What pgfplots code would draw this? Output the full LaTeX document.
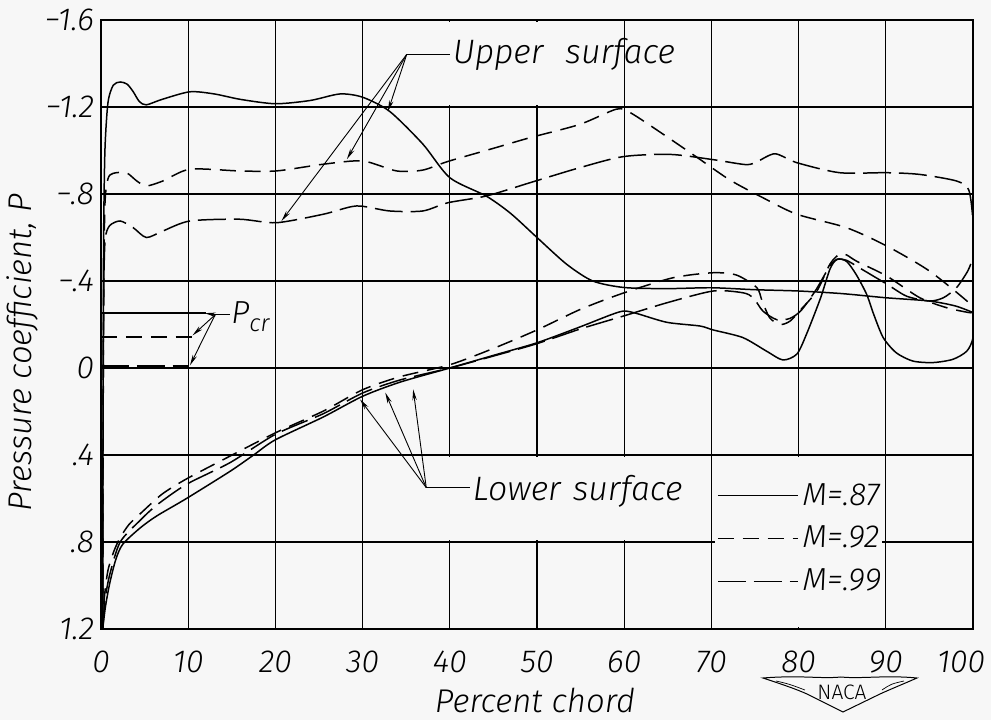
\documentclass[border=0pt]{standalone}
\usepackage{pgfplots}
\pgfplotsset{compat=1.18}
\usepackage{fontspec}
\setmainfont{Fira Sans Light}[ItalicFont={Fira Sans Light Italic}]
\usetikzlibrary{arrows.meta,calc,backgrounds}
\definecolor{bg}{RGB}{247,247,247}
\tikzset{
  s87/.style={black, line width=0.75pt, solid},
  s92/.style={black, line width=0.75pt, dash pattern=on 8pt off 4.5pt},
  s99/.style={black, line width=0.75pt, dash pattern=on 14pt off 4pt},
  ann/.style={black, line width=0.45pt},
  arr/.style={black, line width=0.45pt, -{Stealth[length=5.5bp,width=2.2bp]}},
}
\begin{document}
\begin{tikzpicture}
\begin{axis}[
  name=ax,
  scale only axis,
  width=436bp, height=304.5bp,
  xmin=0, xmax=100, ymin=-1.6, ymax=1.2,
  y dir=reverse,
  xtick={0,10,...,100},
  ytick={-1.6,-1.2,-0.8,-0.4,0,0.4,0.8,1.2},
  xticklabels={0,10,20,30,40,50,60,70,80,90,\hspace*{-12bp}100},
  yticklabels={−1.6,−1.2,−.8,−.4,0,.4,.8,1.2},
  major tick length=0pt,
  grid=major,
  major grid style={black, line width=0.65pt},
  axis line style={black, line width=0.75pt},
  tick label style={font=\fontsize{16}{18}\selectfont\itshape},
  xticklabel style={anchor=base, yshift=-21.5bp},
  xlabel={Percent chord},
  xlabel style={at={(axis description cs:0.4977,-0.1166)}, anchor=center,
    font=\fontsize{16.5}{18}\selectfont\itshape},
  legend style={at={(axis cs:70.6,0.51)}, anchor=north west, draw=none, fill=none,
    font=\fontsize{16}{18}\selectfont\itshape, row sep=5bp, inner sep=0pt,
    cells={anchor=west}},
  legend image code/.code={\draw[#1] (0bp,0bp) -- (40bp,0bp);},
]
% blank areas of the grid behind the labels and the key
\fill[bg] (axis cs:30.4,-1.59) rectangle (axis cs:59.6,-1.21);
\fill[bg] (axis cs:30.4,0.41) rectangle (axis cs:69.6,0.79);
\fill[bg] (axis cs:70.4,0.41) rectangle (axis cs:89.6,1.19);

\addlegendimage{s87}\addlegendentry{M=.87}
\addlegendimage{s92}\addlegendentry{M=.92}
\addlegendimage{s99}\addlegendentry{M=.99}

% ---------- upper surface ----------
\addplot[s87, smooth, tension=0.45, forget plot] coordinates {
(0.2,1.2)(0.22,0.6)(0.25,0)(0.3,-0.6)(0.45,-1.0)(0.8,-1.22)(1.4,-1.3)(2.2,-1.315)
(3,-1.305)(3.7,-1.27)(4.4,-1.225)(5.2,-1.21)(7,-1.235)(10.2,-1.27)(13,-1.26)
(16,-1.235)(20,-1.215)(24,-1.23)(27.4,-1.26)(30,-1.245)(33.1,-1.18)(36.9,-1.03)
(40,-0.875)(44.2,-0.79)(47,-0.71)(50,-0.6)(53.4,-0.477)(56.4,-0.40)(60,-0.37)
(65,-0.365)(70,-0.369)(75,-0.36)(80,-0.354)(85,-0.342)(90,-0.323)(95,-0.308)
(98,-0.285)(100,-0.255)};
\addplot[s92, smooth, tension=0.45, forget plot] coordinates {
(0.2,1.2)(0.22,0.5)(0.3,-0.3)(0.45,-0.75)(0.8,-0.87)(1.4,-0.895)(2.9,-0.898)
(4.1,-0.86)(5.2,-0.837)(7.1,-0.86)(10.2,-0.914)(15.9,-0.906)(20.1,-0.906)
(25.5,-0.937)(30,-0.952)(33.9,-0.906)(36.9,-0.91)(39.8,-0.95)(45,-1.01)
(49.2,-1.059)(54.9,-1.12)(59.1,-1.19)(60.7,-1.174)(64.5,-1.074)(68.3,-0.97)
(72.1,-0.865)(75.9,-0.783)(79.8,-0.707)(85.5,-0.645)(90.1,-0.561)(95,-0.446)
(99.7,-0.294)(100,-0.262)};
\addplot[s99, smooth, tension=0.45, forget plot] coordinates {
(0.2,1.2)(0.22,0.6)(0.28,-0.1)(0.35,-0.45)(0.5,-0.6)(1,-0.655)(2.2,-0.676)
(3.7,-0.645)(5.2,-0.6)(7.1,-0.63)(10.2,-0.676)(15.9,-0.684)(20.1,-0.668)
(25.5,-0.707)(29.3,-0.745)(33.1,-0.722)(36.9,-0.722)(39.8,-0.76)(44.2,-0.791)
(49.2,-0.852)(54.9,-0.921)(59.9,-0.972)(65.3,-0.982)(70.2,-0.958)(74,-0.935)
(75.3,-0.95)(77.3,-0.985)(79.8,-0.944)(84.7,-0.898)(90.1,-0.898)(93.9,-0.89)
(98.1,-0.86)(99.5,-0.82)(99.95,-0.7)(100,-0.6)(100,-0.507)};

% ---------- lower surface ----------
\addplot[s87, smooth, tension=0.45, forget plot] coordinates {
(0.2,1.2)(0.5,1.1)(1,0.99)(1.7,0.88)(2.5,0.81)(4.5,0.735)(6.4,0.68)(9.8,0.60)
(14.8,0.475)(17.5,0.40)(20,0.33)(25.5,0.225)(30,0.13)(34.3,0.065)(40,0.0)(45,-0.058)
(50,-0.116)(55,-0.19)(58.5,-0.245)(60,-0.262)(61.5,-0.25)(64.9,-0.21)
(68.7,-0.193)(70.2,-0.175)(73.6,-0.14)(76.3,-0.078)(78.2,-0.037)(79.8,-0.064)
(80.9,-0.155)(82.5,-0.32)(83.6,-0.455)(84.4,-0.50)(85.5,-0.49)(86.6,-0.43)
(87.8,-0.339)(88.6,-0.248)(89.7,-0.14)(91.2,-0.07)(93.1,-0.032)(95.4,-0.025)
(97.7,-0.04)(99.3,-0.078)(100,-0.14)(100,-0.255)};
\addplot[s92, smooth, tension=0.45, forget plot] coordinates {
(0.2,1.2)(0.4,1.05)(0.8,0.93)(1.5,0.84)(2.2,0.78)(3.2,0.72)(4.5,0.67)(7,0.58)
(9.8,0.51)(14.8,0.405)(20,0.298)(25.5,0.198)(30,0.10)(34.3,0.04)(40,-0.015)
(45,-0.09)(50,-0.175)(55,-0.27)(60,-0.346)(65.6,-0.415)(70.2,-0.438)
(72.9,-0.427)(75.2,-0.37)(75.8,-0.31)(76.7,-0.23)(77.9,-0.20)(79,-0.215)
(80.1,-0.262)(82.1,-0.354)(83.6,-0.478)(84.7,-0.524)(85.5,-0.52)(86.7,-0.49)
(90.1,-0.423)(93.9,-0.323)(97,-0.277)(99.7,-0.254)(100,-0.262)};
\addplot[s99, smooth, tension=0.45, forget plot] coordinates {
(0.2,1.2)(0.45,1.07)(1,0.95)(2.2,0.80)(4.5,0.70)(6.4,0.63)(9.8,0.535)
(14.8,0.435)(20,0.305)(25.5,0.21)(30,0.115)(34.3,0.055)(40,0.0)(45,-0.055)
(50,-0.112)(55,-0.18)(60,-0.24)(64.9,-0.30)(70.2,-0.354)(73.6,-0.346)
(74.8,-0.323)(75.9,-0.262)(77.5,-0.222)(79,-0.228)(80.3,-0.265)(82,-0.36)
(83.6,-0.47)(84.5,-0.50)(85.5,-0.495)(87,-0.46)(90.1,-0.386)(92.4,-0.33)
(95,-0.308)(96.6,-0.323)(98.1,-0.369)(99.4,-0.446)(100,-0.507)};

% ---------- critical pressure coefficients ----------
\addplot[s87, forget plot] coordinates {(0,-0.252)(12,-0.252)};
\addplot[s92, forget plot] coordinates {(0,-0.143)(10.4,-0.143)};
\addplot[s99, line width=1.4pt, forget plot] coordinates {(0,-0.006)(10,-0.006)};

% ---------- annotations ----------
\draw[ann] (axis cs:13.1,-0.245) -- (axis cs:14.8,-0.245);
\draw[arr] (axis cs:13.1,-0.245) -- (axis cs:11.9,-0.252);
\draw[arr] (axis cs:13.1,-0.245) -- (axis cs:10.5,-0.15);
\draw[arr] (axis cs:13.1,-0.245) -- (axis cs:10.2,-0.012);
\node[anchor=west, inner sep=0pt, font=\fontsize{16}{18}\selectfont\itshape]
  at (axis cs:14.9,-0.235) {P\raisebox{-0.5ex}{\fontsize{12}{13}\selectfont\itshape cr}};

\draw[ann] (axis cs:35.06,-1.442) -- (axis cs:40.0,-1.442);
\draw[arr] (axis cs:35.06,-1.442) -- (axis cs:32.9,-1.18);
\draw[arr] (axis cs:35.06,-1.442) -- (axis cs:28.2,-0.96);
\draw[arr] (axis cs:35.06,-1.442) -- (axis cs:20.7,-0.676);
\node[anchor=west, inner sep=0pt, font=\fontsize{17}{19}\selectfont\itshape]
  at (axis cs:40.3,-1.44) {Upper\hspace{11bp}surface};

\draw[ann] (axis cs:37.3,0.55) -- (axis cs:42.3,0.55);
\draw[arr] (axis cs:37.3,0.55) -- (axis cs:29.7,0.144);
\draw[arr] (axis cs:37.3,0.55) -- (axis cs:32.6,0.113);
\draw[arr] (axis cs:37.3,0.55) -- (axis cs:35.8,0.098);
\node[anchor=west, inner sep=0pt, font=\fontsize{17}{19}\selectfont\itshape]
  at (axis cs:42.6,0.565) {Lower\hspace{6bp}surface};
\end{axis}

% y label
\node[rotate=90, anchor=center, inner sep=0pt, font=\fontsize{16.5}{18}\selectfont\itshape]
  at ($(ax.south west)+(-39.5bp,138bp)$) {Pressure coefficient, P};

% NACA emblem
\begin{scope}[shift={(ax.south west)}, x=0.5bp, y=-0.5bp]
\draw[line width=0.5pt] (662,49) .. controls (700,46) and (720,50) .. (740,48)
  .. controls (760,50) and (785,46) .. (816,49)
  .. controls (800,56) and (790,60) .. (779,65) -- (742,83) -- (706,65)
  .. controls (695,60) and (680,55) .. (662,49) -- cycle;
\draw[line width=0.35pt] (675,52) .. controls (688,55) .. (704,61)
  (803,52) .. controls (790,55) .. (781,61);
\node[font=\fontsize{10.5}{12}\selectfont, inner sep=0pt] at (741,63) {NACA};
\end{scope}

\pgfresetboundingbox
\path ($(ax.south west)+(-50.5bp,-45.5bp)$) rectangle ($(ax.north east)+(9bp,10bp)$);
\begin{scope}[on background layer]
\fill[bg] ($(ax.south west)+(-50.5bp,-45.5bp)$) rectangle ($(ax.north east)+(9bp,10bp)$);
\end{scope}
\end{tikzpicture}
\end{document}
